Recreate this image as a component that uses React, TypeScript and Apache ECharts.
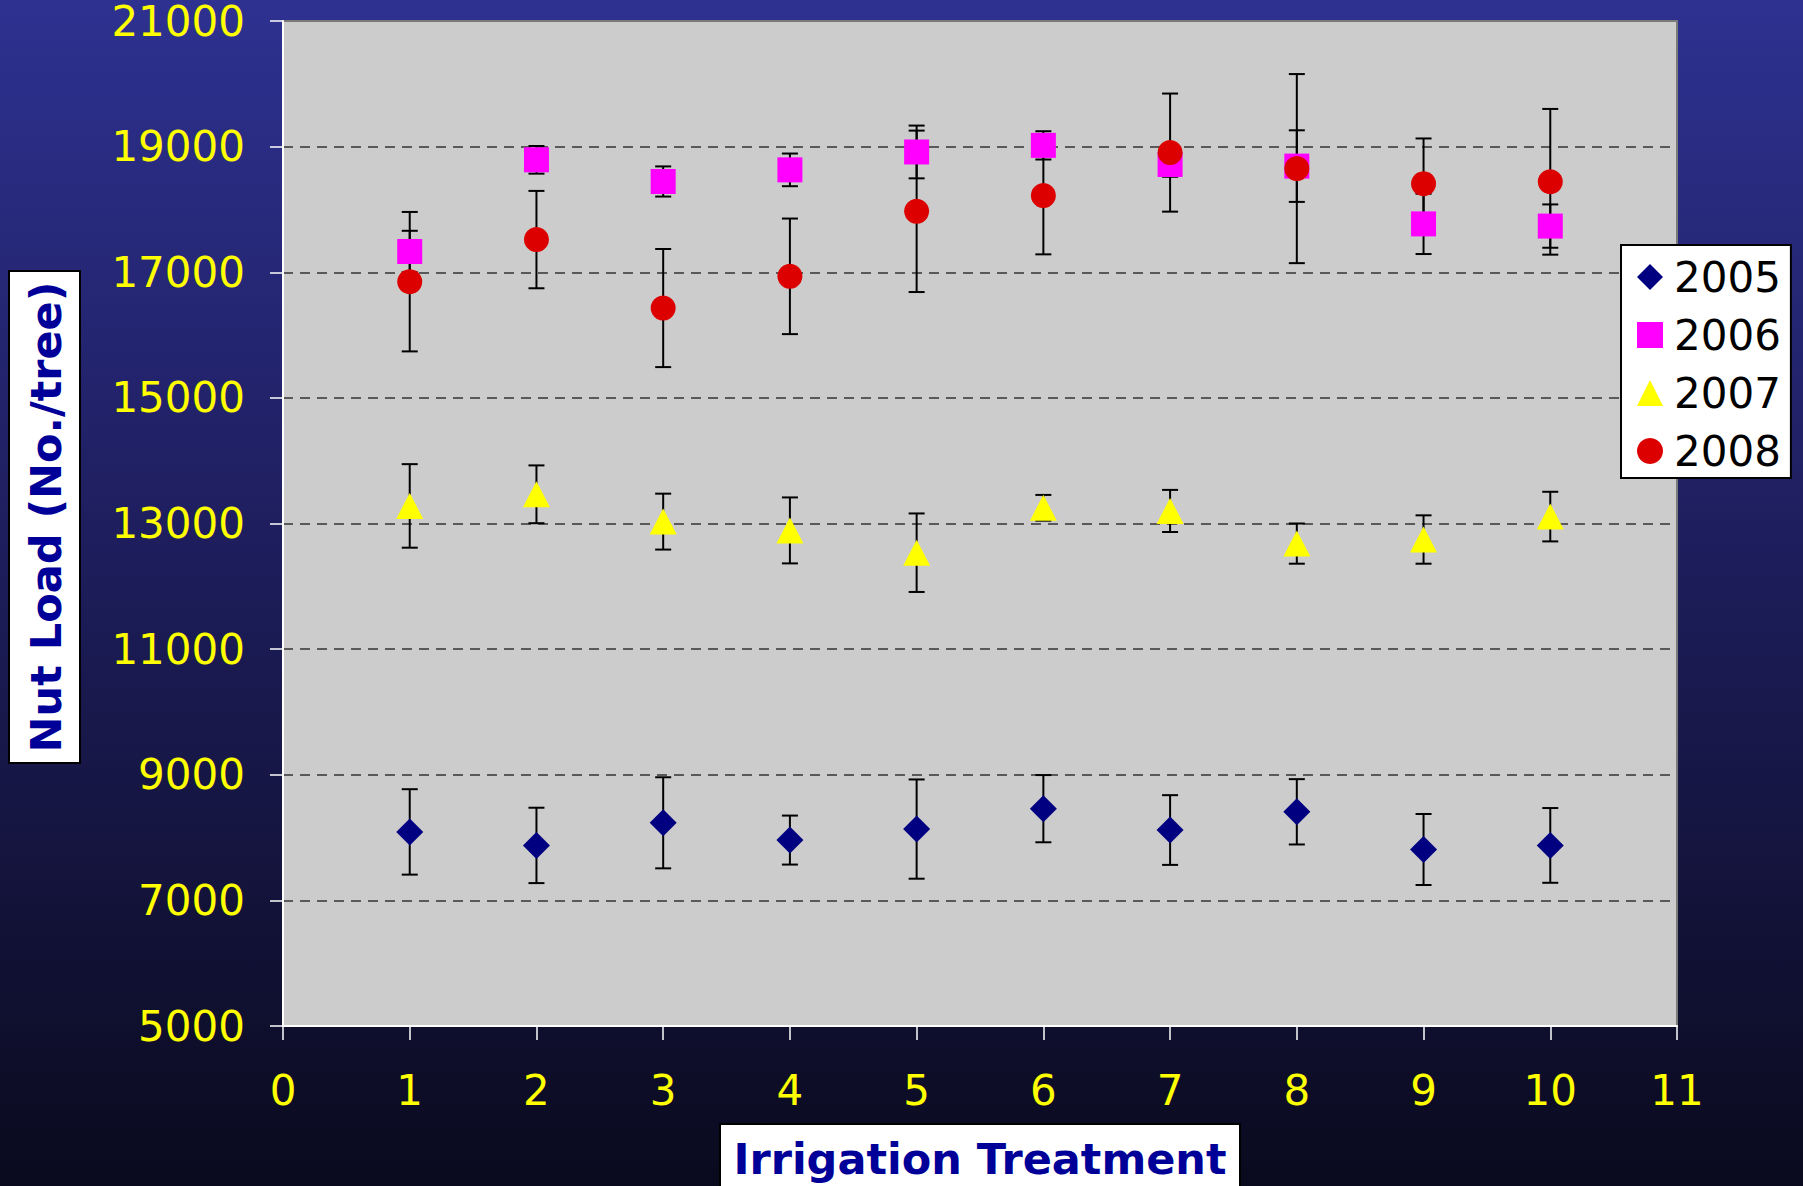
import React, { useEffect, useRef } from "react";
import * as echarts from "echarts";

const treatments = [1, 2, 3, 4, 5, 6, 7, 8, 9, 10];
const years = ["2005", "2006", "2007", "2008"];

const mean2005 = [8090, 7875, 8235, 7960, 8135, 8460, 8120, 8410, 7810, 7875];
const err2005 = [680, 600, 725, 390, 790, 535, 555, 520, 565, 595];

const mean2006 = [17330, 18790, 18445, 18630, 18915, 19020, 18715, 18690, 17770, 17735];
const err2006 = [330, 220, 240, 260, 420, 225, 195, 570, 480, 345];

const mean2007 = [13280, 13465, 13030, 12890, 12535, 13250, 13200, 12680, 12745, 13110];
const err2007 = [665, 460, 445, 525, 625, 205, 335, 320, 385, 395];

const mean2008 = [16850, 17520, 16430, 16935, 17970, 18220, 18905, 18650, 18410, 18440];
const err2008 = [1110, 775, 940, 920, 1285, 935, 940, 1505, 720, 1160];

const yTicks = { min: 5000, max: 21000, interval: 2000 };
const xTicks = { min: 0, max: 11, interval: 1 };

const seriesMeans = [mean2005, mean2006, mean2007, mean2008];
const seriesErrs = [err2005, err2006, err2007, err2008];
const seriesColors = ["#000080", "#FF00FF", "#FFFF00", "#DD0000"];
const seriesSymbols = ["diamond", "rect", "triangle", "circle"];
const seriesSizes: any[] = [[27, 27], [25, 25], [27, 26], [25, 25]];

export default function App() {
  const ref = useRef<HTMLDivElement>(null);

  useEffect(() => {
    document.body.style.margin = "0";
    document.body.style.overflow = "hidden";
    const chart = echarts.init(ref.current!, null, { renderer: "svg" });

    const errData: number[][] = [];
    seriesMeans.forEach((m, si) => {
      m.forEach((v, i) => errData.push([treatments[i], v, seriesErrs[si][i]]));
    });

    const fontFamily = '"DejaVu Sans", Verdana, sans-serif';

    const option: any = {
      animation: false,
      backgroundColor: "transparent",
      grid: {
        left: 283,
        top: 20,
        right: 126,
        bottom: 160,
        show: true,
        backgroundColor: "#CCCCCC",
        borderColor: "#7a7a7a",
        borderWidth: 2,
      },
      legend: {
        orient: "vertical",
        left: 1621,
        top: 245,
        backgroundColor: "#FFFFFF",
        borderColor: "#000000",
        borderWidth: 2,
        padding: [11, 10, 6, 16],
        itemWidth: 26,
        itemHeight: 26,
        itemGap: 16,
        textStyle: {
          fontSize: 42,
          fontFamily,
          color: "#000000",
          lineHeight: 42,
          padding: [0, 0, 0, 6],
        },
        data: years.map((y, i) => ({ name: y, icon: seriesSymbols[i] })),
      },
      xAxis: {
        type: "value",
        min: xTicks.min,
        max: xTicks.max,
        interval: xTicks.interval,
        axisLine: { show: true, onZero: false, lineStyle: { color: "#FFFFFF", width: 2 } },
        axisTick: { show: true, length: 14, lineStyle: { color: "#FFFFFF", width: 1.5 } },
        axisLabel: { color: "#FFFF00", fontSize: 42, fontFamily, margin: 43 },
        splitLine: { show: false },
      },
      yAxis: {
        type: "value",
        min: yTicks.min,
        max: yTicks.max,
        interval: yTicks.interval,
        axisLine: { show: true, lineStyle: { color: "#FFFFFF", width: 2 } },
        axisTick: { show: true, length: 13, lineStyle: { color: "#FFFFFF", width: 1.5 } },
        axisLabel: {
          color: "#FFFF00",
          fontSize: 42,
          lineHeight: 36,
          fontFamily,
          margin: 38,
          formatter: (v: number) => String(v),
        },
        splitLine: {
          show: true,
          showMinLine: false,
          showMaxLine: false,
          lineStyle: { color: "#333333", width: 1.5, type: [10, 7] },
        },
      },
      graphic: [
        {
          type: "group",
          children: [
            {
              type: "rect",
              shape: { x: 9, y: 271, width: 71, height: 492 },
              style: { fill: "#FFFFFF", stroke: "#000000", lineWidth: 2 },
            },
            {
              type: "text",
              x: 46,
              y: 517,
              rotation: Math.PI / 2,
              style: {
                text: "Nut Load (No./tree)",
                fill: "#000099",
                font: 'bold 43px "DejaVu Sans", Verdana, sans-serif',
                align: "center",
                verticalAlign: "middle",
                textAlign: "center",
                textVerticalAlign: "middle",
              },
            },
          ],
        },
        {
          type: "group",
          children: [
            {
              type: "rect",
              shape: { x: 720, y: 1124, width: 520, height: 80 },
              style: { fill: "#FFFFFF", stroke: "#000000", lineWidth: 2 },
            },
            {
              type: "text",
              x: 980,
              y: 1159,
              style: {
                text: "Irrigation Treatment",
                fill: "#000099",
                font: 'bold 43px "DejaVu Sans", Verdana, sans-serif',
                align: "center",
                verticalAlign: "middle",
                textAlign: "center",
                textVerticalAlign: "middle",
              },
            },
          ],
        },
      ],
      series: [
        {
          name: "errors",
          type: "custom",
          z: 1,
          data: errData,
          encode: { x: 0, y: 1 },
          renderItem: (params: any, api: any) => {
            const x = api.value(0);
            const y = api.value(1);
            const e = api.value(2);
            const top = api.coord([x, y + e]);
            const bot = api.coord([x, y - e]);
            const hw = 8;
            const style = { stroke: "#000000", lineWidth: 2 };
            return {
              type: "group",
              children: [
                { type: "line", shape: { x1: top[0], y1: top[1], x2: bot[0], y2: bot[1] }, style },
                { type: "line", shape: { x1: top[0] - hw, y1: top[1], x2: top[0] + hw, y2: top[1] }, style },
                { type: "line", shape: { x1: bot[0] - hw, y1: bot[1], x2: bot[0] + hw, y2: bot[1] }, style },
              ],
            };
          },
        },
        ...years.map((y, si) => ({
          name: y,
          type: "scatter",
          z: 2,
          symbol: seriesSymbols[si],
          symbolSize: seriesSizes[si],
          itemStyle: { color: seriesColors[si], opacity: 1 },
          data: seriesMeans[si].map((v, i) => [treatments[i], v]),
        })),
      ],
    };

    chart.setOption(option);
    return () => chart.dispose();
  }, []);

  return (
    <div
      ref={ref}
      style={{
        position: "absolute",
        left: 0,
        top: 0,
        width: 1803,
        height: 1186,
        background: "linear-gradient(to bottom, #2E3190 0%, #1E1E5E 45%, #0A0A1E 100%)",
      }}
    />
  );
}
